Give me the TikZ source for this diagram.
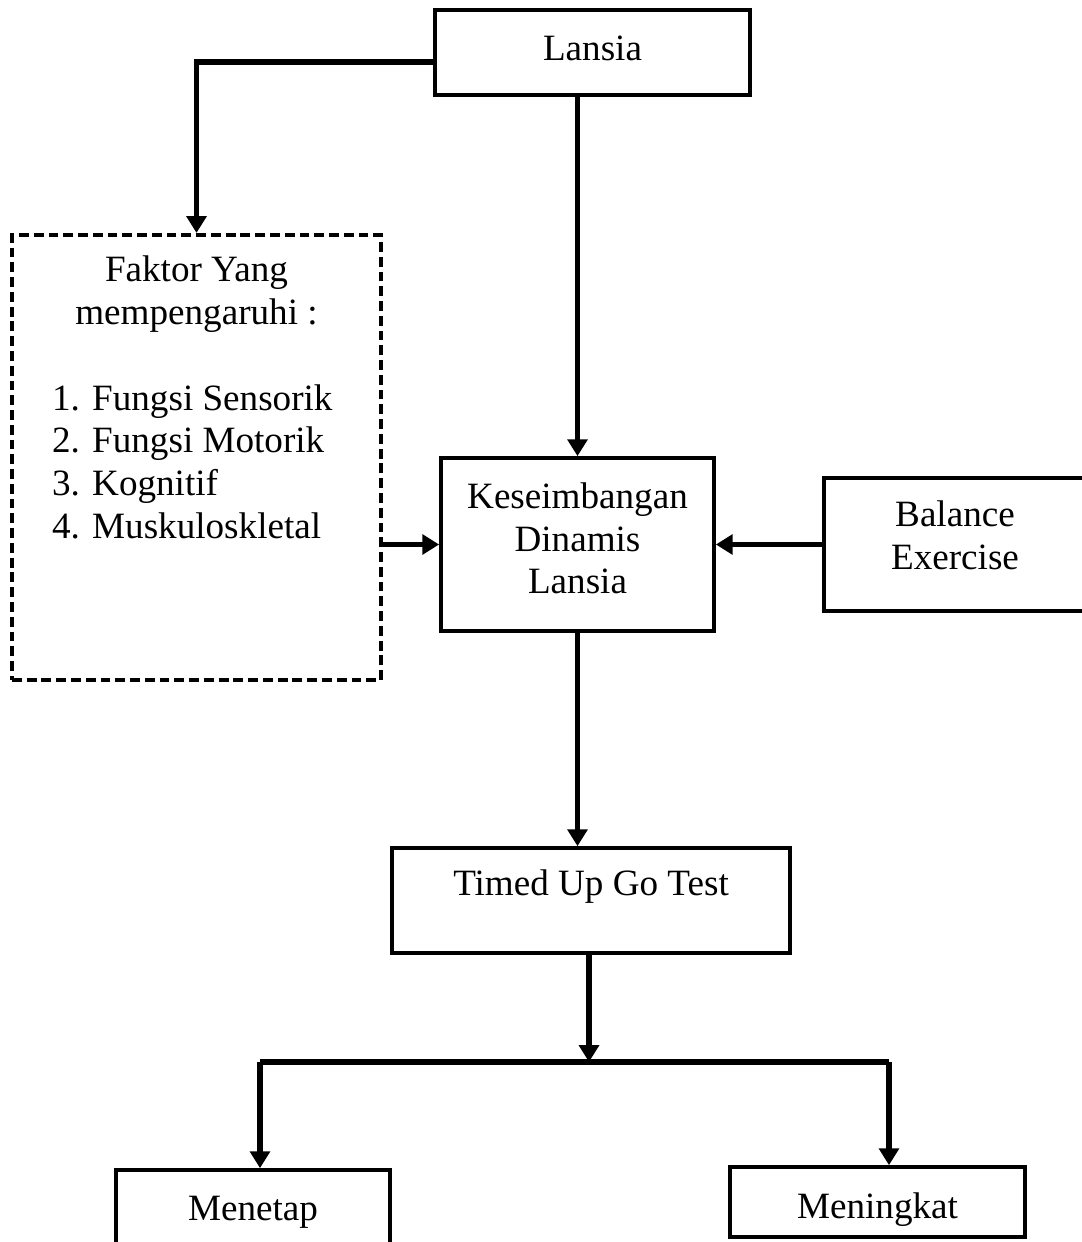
\documentclass[tikz,border=0pt]{standalone}
\usepackage{fontspec}
\setmainfont{Liberation Serif}
\usepackage{tikz}
\usetikzlibrary{arrows.meta,positioning}

\begin{document}
\begin{tikzpicture}[
  x=0.025cm, y=-0.025cm,
  box/.style={draw, line width=2.6pt, align=center, inner sep=0pt,
              font=\fontsize{26.4}{30.4}\selectfont},
  dashbox/.style={draw, line width=2.8pt, dash pattern=on 7pt off 3.5pt, inner sep=0pt,
                  font=\fontsize{26.4}{30.4}\selectfont},
  arrow/.style={-{Triangle[length=12pt, width=14pt]}, line width=3.8pt},
  bar/.style={line width=3.8pt}
]
\useasboundingbox (0,0) rectangle (1081,1242);

\node[box, minimum width=7.875cm, minimum height=2.125cm, text height=18pt, text depth=7.2pt]
  (lansia) at (592.5,52.5) {Lansia};
\node[dashbox] (faktor) at (196.5,457.5) {%
  \parbox[c][11.125cm][t]{9.225cm}{\vspace*{15pt}%
    {\centering Faktor Yang\\mempengaruhi :\par}
    \vspace{30.4pt}
    {\raggedright\leftskip=28.5pt
     1. Fungsi Sensorik\\2. Fungsi Motorik\\3. Kognitif\\4. Muskuloskletal\par}}};
\node[box, minimum width=6.825cm, minimum height=4.325cm, text height=78.8pt, text depth=8.6pt]
  (kes) at (577.5,544.5) {Keseimbangan\\Dinamis\\Lansia};
\node[box, minimum width=6.55cm, minimum height=3.325cm, text height=48.4pt, text depth=12.8pt]
  (balance) at (955,544.5) {Balance\\Exercise};
\node[box, minimum width=9.95cm, minimum height=2.625cm, text height=18pt, text depth=25.5pt]
  (timed) at (591,900.5) {Timed Up Go Test};
\node[box, minimum width=6.85cm, minimum height=1.9cm, text height=23.6pt, text depth=5.7pt]
  (menetap) at (253,1208) {Menetap};
\node[box, minimum width=7.375cm, minimum height=1.75cm, text height=29.4pt, text depth=5.7pt]
  (meningkat) at (877.5,1202) {Meningkat};

\coordinate (fork) at (589,1062);
\coordinate (forkL) at (260,1062);
\coordinate (forkR) at (889,1062);

\draw[arrow] ([yshift=-0.24cm]lansia.west) -| (faktor.north);
\draw[arrow] (kes.north |- lansia.south) -- (kes.north);
\draw[arrow] (faktor.east |- kes.west) -- (kes.west);
\draw[arrow] (balance.west) -- (kes.east);
\draw[arrow] (kes.south) -- (kes.south |- timed.north);
\draw[arrow] (timed.south -| fork) -- (fork);
\draw[bar] (forkL) -- (forkR);
\draw[arrow] (forkL) -- (forkL |- menetap.north);
\draw[arrow] (forkR) -- (forkR |- meningkat.north);
\end{tikzpicture}
\end{document}
